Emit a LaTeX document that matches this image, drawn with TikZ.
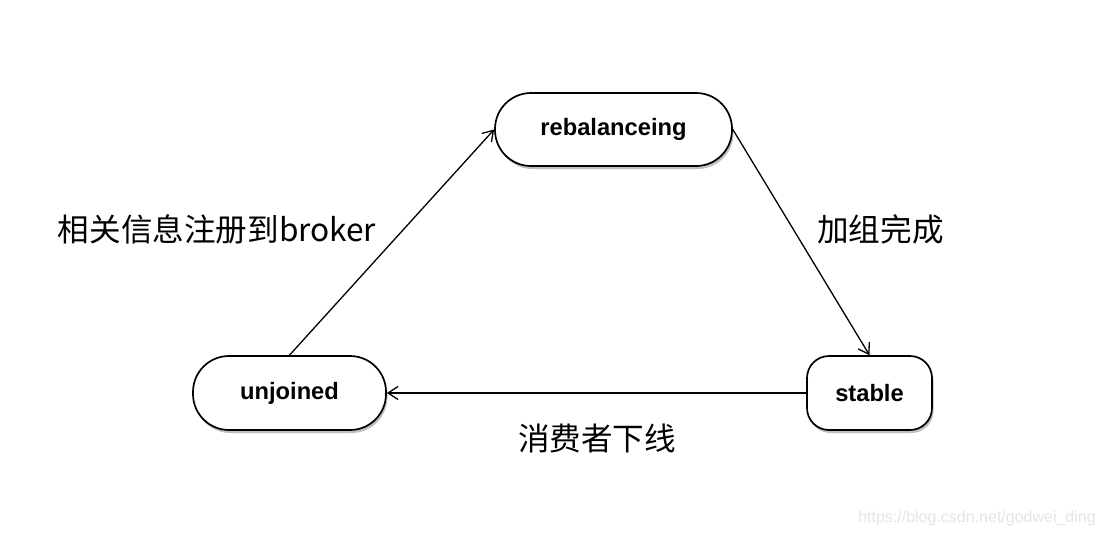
\documentclass[tikz,border=0pt]{standalone}
\usepackage{fontspec}
\setmainfont{Liberation Sans}
\newfontfamily\cjk{Noto Sans CJK SC}
\usetikzlibrary{arrows.meta,shadows}
\begin{document}
\begin{tikzpicture}[x=1pt,y=-1pt,
  statebox/.style={draw=black, line width=1.7pt, fill=white, inner sep=0pt,
    font=\bfseries\fontsize{23.7}{27}\selectfont,
    drop shadow={shadow xshift=1.5pt, shadow yshift=-3pt, opacity=0.25, fill=black}},
  arr/.style={draw=black, line width=1.3pt, -{Straight Barb[length=10pt,width=13pt,line width=1.3pt]}},
  lbl/.style={font=\cjk\fontsize{31.6}{36}\selectfont, inner sep=0pt}]
\fill[white] (0,0) rectangle (1104,536);
\useasboundingbox (0,0) rectangle (1104,536);
\node[statebox, minimum width=237pt, minimum height=73pt, rounded corners=36pt] (reb) at (613.5,129.5) {rebalanceing};
\node[statebox, minimum width=193pt, minimum height=74pt, rounded corners=36pt] (unj) at (289.5,393) {unjoined};
\node[statebox, minimum width=125pt, minimum height=74pt, rounded corners=22pt] (sta) at (869.5,393) {stable};
\draw[arr] (unj.north) -- (reb.west);
\draw[arr] (reb.east) -- (sta.north);
\draw[arr] (sta.west) -- (unj.east);
\node[lbl] (l1) at (217,229) {相关信息注册到broker};
\node[lbl] (l2) at (880.5,229) {加组完成};
\node[lbl] (l3) at (597,438) {消费者下线};
\node[font=\fontsize{16}{18}\selectfont, text=black!10, inner sep=0pt] (wm) at (977,518) {https://blog.csdn.net/godwei\_ding};
\end{tikzpicture}
\end{document}
